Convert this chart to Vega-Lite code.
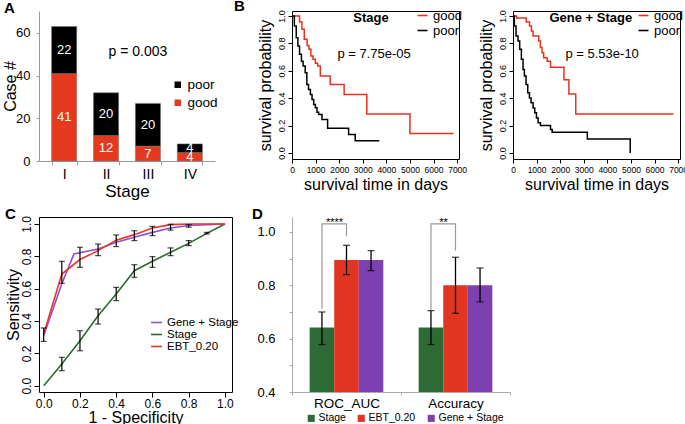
{
"$schema":"https://vega.github.io/schema/vega-lite/v6.json",
"padding":{"left":2,"top":-2,"right":2,"bottom":2},
"background":"white",
"config":{"font":"Liberation Sans","view":{"stroke":null},
 "axis":{"grid":false,"labelColor":"black","titleColor":"black","titleFontWeight":"normal","tickColor":"black","labelOverlap":false,"labelFlush":false},
 "title":{"anchor":"start","frame":"group","fontSize":15,"fontWeight":"bold","offset":0,"baseline":"alphabetic","color":"black"},
 "legend":{"labelColor":"black","padding":0}},
"datasets":{
 "stages":[
  {"stage":"I","outcome":"good","count":41,"ord":1},{"stage":"I","outcome":"poor","count":22,"ord":2},
  {"stage":"II","outcome":"good","count":12,"ord":1},{"stage":"II","outcome":"poor","count":20,"ord":2},
  {"stage":"III","outcome":"good","count":7,"ord":1},{"stage":"III","outcome":"poor","count":20,"ord":2},
  {"stage":"IV","outcome":"good","count":4,"ord":1},{"stage":"IV","outcome":"poor","count":4,"ord":2}],
 "km1":[
  {"g":"good","t":0,"s":1},{"g":"good","t":320,"s":0.956},{"g":"good","t":420,"s":0.902},{"g":"good","t":520,"s":0.829},{"g":"good","t":640,"s":0.785},{"g":"good","t":720,"s":0.756},{"g":"good","t":800,"s":0.707},{"g":"good","t":890,"s":0.683},{"g":"good","t":990,"s":0.654},{"g":"good","t":1090,"s":0.634},{"g":"good","t":1200,"s":0.561},{"g":"good","t":1620,"s":0.5},{"g":"good","t":2210,"s":0.427},{"g":"good","t":3170,"s":0.285},{"g":"good","t":5000,"s":0.142},{"g":"good","t":6850,"s":0.142},
  {"g":"poor","t":0,"s":1},{"g":"poor","t":100,"s":0.927},{"g":"poor","t":180,"s":0.841},{"g":"poor","t":250,"s":0.78},{"g":"poor","t":320,"s":0.72},{"g":"poor","t":400,"s":0.67},{"g":"poor","t":470,"s":0.634},{"g":"poor","t":560,"s":0.585},{"g":"poor","t":630,"s":0.5},{"g":"poor","t":700,"s":0.463},{"g":"poor","t":780,"s":0.427},{"g":"poor","t":850,"s":0.39},{"g":"poor","t":920,"s":0.354},{"g":"poor","t":990,"s":0.33},{"g":"poor","t":1060,"s":0.298},{"g":"poor","t":1130,"s":0.28},{"g":"poor","t":1270,"s":0.244},{"g":"poor","t":1510,"s":0.18},{"g":"poor","t":2400,"s":0.134},{"g":"poor","t":2680,"s":0.09},{"g":"poor","t":3700,"s":0.09}],
 "km2":[
  {"g":"good","t":0,"s":1},{"g":"good","t":150,"s":0.985},{"g":"good","t":560,"s":0.956},{"g":"good","t":700,"s":0.927},{"g":"good","t":780,"s":0.89},{"g":"good","t":850,"s":0.854},{"g":"good","t":1090,"s":0.817},{"g":"good","t":1160,"s":0.77},{"g":"good","t":1230,"s":0.732},{"g":"good","t":1300,"s":0.695},{"g":"good","t":1450,"s":0.67},{"g":"good","t":1590,"s":0.625},{"g":"good","t":2160,"s":0.535},{"g":"good","t":2370,"s":0.43},{"g":"good","t":2660,"s":0.285},{"g":"good","t":6800,"s":0.285},
  {"g":"poor","t":0,"s":1},{"g":"poor","t":57,"s":0.927},{"g":"poor","t":128,"s":0.854},{"g":"poor","t":213,"s":0.817},{"g":"poor","t":284,"s":0.756},{"g":"poor","t":355,"s":0.683},{"g":"poor","t":426,"s":0.61},{"g":"poor","t":483,"s":0.561},{"g":"poor","t":554,"s":0.5},{"g":"poor","t":625,"s":0.439},{"g":"poor","t":696,"s":0.402},{"g":"poor","t":767,"s":0.366},{"g":"poor","t":852,"s":0.329},{"g":"poor","t":923,"s":0.293},{"g":"poor","t":994,"s":0.256},{"g":"poor","t":1065,"s":0.22},{"g":"poor","t":1164,"s":0.2},{"g":"poor","t":1590,"s":0.171},{"g":"poor","t":1661,"s":0.151},{"g":"poor","t":3152,"s":0.102},{"g":"poor","t":4970,"s":0}],
 "roc":[
  {"m":"Gene + Stage","x":0,"y":0.31},{"m":"Gene + Stage","x":0.1,"y":0.63},{"m":"Gene + Stage","x":0.167,"y":0.815},{"m":"Gene + Stage","x":0.3,"y":0.845},{"m":"Gene + Stage","x":0.4,"y":0.887},{"m":"Gene + Stage","x":0.5,"y":0.918},{"m":"Gene + Stage","x":0.6,"y":0.948},{"m":"Gene + Stage","x":0.7,"y":0.975},{"m":"Gene + Stage","x":0.8,"y":0.99},{"m":"Gene + Stage","x":1,"y":1},
  {"m":"Stage","x":0,"y":0},{"m":"Stage","x":0.1,"y":0.134},{"m":"Stage","x":0.2,"y":0.278},{"m":"Stage","x":0.3,"y":0.433},{"m":"Stage","x":0.4,"y":0.567},{"m":"Stage","x":0.5,"y":0.711},{"m":"Stage","x":0.6,"y":0.769},{"m":"Stage","x":0.7,"y":0.825},{"m":"Stage","x":0.8,"y":0.88},{"m":"Stage","x":0.9,"y":0.942},{"m":"Stage","x":1,"y":1},
  {"m":"EBT_0.20","x":0,"y":0.32},{"m":"EBT_0.20","x":0.1,"y":0.69},{"m":"EBT_0.20","x":0.2,"y":0.78},{"m":"EBT_0.20","x":0.3,"y":0.835},{"m":"EBT_0.20","x":0.4,"y":0.9},{"m":"EBT_0.20","x":0.5,"y":0.934},{"m":"EBT_0.20","x":0.6,"y":0.975},{"m":"EBT_0.20","x":0.7,"y":0.996},{"m":"EBT_0.20","x":0.8,"y":1},{"m":"EBT_0.20","x":1,"y":1}],
 "rocerr":[
  {"x":0,"lo":0.274,"hi":0.357},{"x":0.1,"lo":0.633,"hi":0.769},{"x":0.2,"lo":0.732,"hi":0.856},{"x":0.3,"lo":0.804,"hi":0.876},{"x":0.4,"lo":0.86,"hi":0.932},{"x":0.5,"lo":0.897,"hi":0.958},{"x":0.6,"lo":0.928,"hi":0.985},{"x":0.7,"lo":0.962,"hi":0.998},{"x":0.8,"lo":0.98,"hi":0.996},
  {"x":0.1,"lo":0.093,"hi":0.175},{"x":0.2,"lo":0.216,"hi":0.34},{"x":0.3,"lo":0.381,"hi":0.474},{"x":0.4,"lo":0.526,"hi":0.608},{"x":0.5,"lo":0.67,"hi":0.748},{"x":0.6,"lo":0.732,"hi":0.798},{"x":0.7,"lo":0.804,"hi":0.852},{"x":0.8,"lo":0.866,"hi":0.897},{"x":0.9,"lo":0.938,"hi":0.948}],
 "perf":[
  {"grp":"ROC_AUC","model":"Stage","v":0.642,"lo":0.578,"hi":0.70},
  {"grp":"ROC_AUC","model":"EBT_0.20","v":0.895,"lo":0.84,"hi":0.95},
  {"grp":"ROC_AUC","model":"Gene + Stage","v":0.895,"lo":0.855,"hi":0.93},
  {"grp":"Accuracy","model":"Stage","v":0.642,"lo":0.578,"hi":0.705},
  {"grp":"Accuracy","model":"EBT_0.20","v":0.80,"lo":0.695,"hi":0.905},
  {"grp":"Accuracy","model":"Gene + Stage","v":0.80,"lo":0.738,"hi":0.865}],
 "brackets":[
  {"b":"r","grp":"ROC_AUC","model":"Stage","v":0.712,"o":1},{"b":"r","grp":"ROC_AUC","model":"Stage","v":1.03,"o":2},{"b":"r","grp":"ROC_AUC","model":"EBT_0.20","v":1.03,"o":3},{"b":"r","grp":"ROC_AUC","model":"EBT_0.20","v":0.984,"o":4},
  {"b":"a","grp":"Accuracy","model":"Stage","v":0.708,"o":1},{"b":"a","grp":"Accuracy","model":"Stage","v":1.03,"o":2},{"b":"a","grp":"Accuracy","model":"EBT_0.20","v":1.03,"o":3},{"b":"a","grp":"Accuracy","model":"EBT_0.20","v":0.93,"o":4}],
 "stars":[{"grp":"ROC_AUC","model":"EBT_0.20","s":"****"},{"grp":"Accuracy","model":"EBT_0.20","s":"**"}]
},
"bounds":"flush",
"align":"none",
"columns":3,
"spacing":{"column":54,"row":56},
"resolve":{"scale":{"x":"independent","y":"independent","color":"independent","xOffset":"independent"},"legend":{"color":"independent"},"axis":{"x":"independent","y":"independent"}},
"concat":[
  {"width":199,"height":150,
   "title":{"text":"A","dx":-35,"dy":9},
   "data":{"name":"stages"},
   "layer":[
    {"mark":{"type":"bar","stroke":"#777","strokeWidth":0.5},
     "encoding":{
      "x":{"field":"stage","type":"ordinal","sort":["I","II","III","IV"],"scale":{"paddingInner":0.4,"paddingOuter":0.3,"range":[0,176]},
       "axis":{"labelAngle":0,"labelFontSize":14,"title":"Stage","titleFontSize":17,"domainColor":"#999","tickColor":"#999","tickBand":"extent","tickSize":4,"labelPadding":2,"titlePadding":2,"titleX":88,"labelOverlap":false}},
      "y":{"field":"count","type":"quantitative","stack":"zero","scale":{"domain":[0,70.3],"nice":false},
       "axis":{"values":[0,20,40,60],"tickCount":10,"domainColor":"#999","tickColor":"#999","tickSize":3,"labelFontSize":13,"labelPadding":6,"title":"Case #","titleFontSize":16,"titlePadding":-3,"labelOverlap":false}},
      "color":{"field":"outcome","type":"nominal","scale":{"domain":["poor","good"],"range":["#000000","#e5391e"]},
       "legend":{"orient":"none","legendX":132,"legendY":67,"title":null,"symbolType":"square","symbolSize":42,"labelFontSize":13.5,"rowPadding":3,"labelOffset":3,"symbolStrokeWidth":0}},
      "order":{"field":"ord"}}},
    {"transform":[{"stack":"count","groupby":["stage"],"sort":[{"field":"ord"}],"as":["y0","y1"]},{"fold":["y0","y1"],"as":["k","yy"]}],
     "mark":{"type":"text","color":"white","fontSize":13,"baseline":"middle"},
     "encoding":{
      "x":{"field":"stage","type":"ordinal","sort":["I","II","III","IV"]},
      "y":{"aggregate":"mean","field":"yy","type":"quantitative"},
      "text":{"field":"count","type":"quantitative"},
      "detail":{"field":"outcome"}}},
    {"data":{"values":[{"label":"p = 0.003"}]},
     "mark":{"type":"text","fontSize":14,"dx":-10,"baseline":"middle"},
     "encoding":{"x":{"datum":"III"},"y":{"datum":51},"text":{"field":"label"}}}
   ]},
   {"width":167,"height":148,
    "title":{"text":"B","dx":-58,"dy":9},
    "view":{"stroke":"black","strokeWidth":1},
    "layer":[
     {"data":{"name":"km1"},
      "mark":{"type":"line","interpolate":"step-after","strokeWidth":1.5},
      "encoding":{
       "x":{"field":"t","type":"quantitative","scale":{"domain":[0,7080],"nice":false,"zero":false},
        "axis":{"values":[0,1000,2000,3000,4000,5000,6000,7000],"tickCount":10,"format":"d","labelOverlap":false,"domain":false,"tickSize":4,"labelFontSize":8.5,"labelPadding":2,"title":"survival time in days","titleFontSize":16,"titlePadding":3}},
       "y":{"field":"s","type":"quantitative","scale":{"domain":[-0.044,1.036],"nice":false},
        "axis":{"values":[0,0.2,0.4,0.6,0.8,1],"tickCount":10,"format":".1f","labelOverlap":false,"labelAngle":-90,"labelAlign":"center","labelBaseline":"bottom","domain":false,"tickSize":4,"labelFontSize":9,"labelPadding":2,"title":"survival probability","titleFontSize":16,"titlePadding":4}},
       "color":{"field":"g","type":"nominal","scale":{"domain":["good","poor"],"range":["#e8321e","#000000"]},
        "legend":{"orient":"none","legendX":124,"legendY":-2,"title":null,"symbolType":"stroke","symbolSize":100,"symbolStrokeWidth":1.6,"labelFontSize":13,"rowPadding":1,"labelOffset":4}}}},
     {"data":{"values":[{"label":"Stage"}]},
      "mark":{"type":"text","fontSize":13,"fontWeight":"bold","baseline":"middle"},
      "encoding":{"x":{"datum":3350},"y":{"datum":0.985},"text":{"field":"label"}}},
     {"data":{"values":[{"label":"p = 7.75e-05"}]},
      "mark":{"type":"text","fontSize":13,"baseline":"middle"},
      "encoding":{"x":{"datum":3480},"y":{"datum":0.725},"text":{"field":"label"}}}
    ]},
   {"width":167,"height":148,
    "view":{"stroke":"black","strokeWidth":1},
    "layer":[
     {"data":{"name":"km2"},
      "mark":{"type":"line","interpolate":"step-after","strokeWidth":1.5},
      "encoding":{
       "x":{"field":"t","type":"quantitative","scale":{"domain":[0,7080],"nice":false,"zero":false},
        "axis":{"values":[0,1000,2000,3000,4000,5000,6000,7000],"tickCount":10,"format":"d","labelOverlap":false,"domain":false,"tickSize":4,"labelFontSize":8.5,"labelPadding":2,"title":"survival time in days","titleFontSize":16,"titlePadding":3}},
       "y":{"field":"s","type":"quantitative","scale":{"domain":[-0.044,1.036],"nice":false},
        "axis":{"values":[0,0.2,0.4,0.6,0.8,1],"tickCount":10,"format":".1f","labelOverlap":false,"labelAngle":-90,"labelAlign":"center","labelBaseline":"bottom","domain":false,"tickSize":4,"labelFontSize":9,"labelPadding":2,"title":"survival probability","titleFontSize":16,"titlePadding":4}},
       "color":{"field":"g","type":"nominal","scale":{"domain":["good","poor"],"range":["#e8321e","#000000"]},
        "legend":{"orient":"none","legendX":124,"legendY":-2,"title":null,"symbolType":"stroke","symbolSize":100,"symbolStrokeWidth":1.6,"labelFontSize":13,"rowPadding":1,"labelOffset":4}}}},
     {"data":{"values":[{"label":"Gene + Stage"}]},
      "mark":{"type":"text","fontSize":13,"fontWeight":"bold","baseline":"middle"},
      "encoding":{"x":{"datum":3300},"y":{"datum":0.988},"text":{"field":"label"}}},
     {"data":{"values":[{"label":"p = 5.53e-10"}]},
      "mark":{"type":"text","fontSize":13,"baseline":"middle"},
      "encoding":{"x":{"datum":3780},"y":{"datum":0.72},"text":{"field":"label"}}}
    ]},
  {"width":193,"height":175,
   "title":{"text":"C","dx":-34,"dy":10},
   "view":{"stroke":"black","strokeWidth":1},
   "layer":[
    {"data":{"name":"roc"},
     "mark":{"type":"line","strokeWidth":1.6},
     "encoding":{
      "x":{"field":"x","type":"quantitative","scale":{"domain":[-0.026,1.039],"nice":false,"zero":false},
       "axis":{"values":[0,0.2,0.4,0.6,0.8,1],"tickCount":10,"format":".1f","labelOverlap":false,"domain":false,"tickSize":5,"labelFontSize":12,"labelPadding":1,"title":"1 - Specificity","titleFontSize":16,"titlePadding":0}},
      "y":{"field":"y","type":"quantitative","scale":{"domain":[-0.039,1.043],"nice":false},
       "axis":{"values":[0,0.2,0.4,0.6,0.8,1],"tickCount":10,"format":".1f","labelOverlap":false,"labelAngle":-90,"labelAlign":"center","labelBaseline":"bottom","domain":false,"tickSize":5,"labelFontSize":12,"labelPadding":1,"title":"Sensitivity","titleFontSize":16,"titlePadding":-1}},
      "color":{"field":"m","type":"nominal","scale":{"domain":["Gene + Stage","Stage","EBT_0.20"],"range":["#8a52d6","#2c6b2f","#ee3424"]},
       "legend":{"orient":"none","legendX":111,"legendY":99,"title":null,"symbolType":"stroke","symbolSize":121,"symbolStrokeWidth":1.6,"labelFontSize":11.5,"rowPadding":0,"labelOffset":4}}}},
    {"data":{"name":"rocerr"},
     "mark":{"type":"errorbar","ticks":{"size":6,"color":"black"},"color":"black","thickness":1.2},
     "encoding":{
      "x":{"field":"x","type":"quantitative","title":"1 - Specificity"},
      "y":{"field":"lo","type":"quantitative","title":"Sensitivity"},
      "y2":{"field":"hi"}}}
   ]},
  {"width":167,"height":175,
   "title":{"text":"D","dx":-40,"dy":9},
   "layer":[
    {"data":{"name":"perf"},
     "mark":{"type":"bar"},
     "encoding":{
      "x":{"field":"grp","type":"nominal","sort":["ROC_AUC","Accuracy"],"scale":{"paddingInner":0,"paddingOuter":0,"range":[0,218]},
       "axis":{"title":null,"labelAngle":0,"labelFontSize":13.5,"labelPadding":1,"labelOverlap":false,"domainColor":"#aaa","tickColor":"#aaa","tickBand":"extent","tickSize":3}},
      "xOffset":{"field":"model","type":"nominal","sort":["Stage","EBT_0.20","Gene + Stage"],"scale":{"paddingInner":0,"paddingOuter":0.72}},
      "y":{"field":"v","type":"quantitative","scale":{"domain":[0.4,1.056],"nice":false,"zero":false},
       "axis":{"values":[0.4,0.5,0.6,0.7,0.8,0.9,1.0],"tickCount":10,"labelOverlap":false,"labelExpr":"(round(datum.value*10) % 2 == 0) ? format(datum.value, '.1f') : ''","labelFontSize":13,"domainColor":"#aaa","tickColor":"#aaa","tickSize":3,"labelPadding":14,"title":null}},
      "y2":{"datum":0.4},
      "color":{"field":"model","type":"nominal","scale":{"domain":["Stage","EBT_0.20","Gene + Stage"],"range":["#2e6a36","#e13521","#7d40b1"]},
       "legend":{"orient":"none","direction":"horizontal","legendX":14,"legendY":196,"title":null,"symbolType":"square","symbolSize":50,"labelFontSize":10.5,"columnPadding":10,"labelOffset":2,"symbolStrokeWidth":0}}}},
    {"data":{"name":"perf"},
     "mark":{"type":"errorbar","ticks":{"size":7,"color":"black"},"color":"black","thickness":1.3},
     "encoding":{
      "x":{"field":"grp","type":"nominal","sort":["ROC_AUC","Accuracy"]},
      "xOffset":{"field":"model","type":"nominal","sort":["Stage","EBT_0.20","Gene + Stage"]},
      "y":{"field":"lo","type":"quantitative"},
      "y2":{"field":"hi"}}},
    {"data":{"name":"brackets"},
     "mark":{"type":"line","color":"#999","strokeWidth":1.2},
     "encoding":{
      "x":{"field":"grp","type":"nominal","sort":["ROC_AUC","Accuracy"]},
      "xOffset":{"field":"model","type":"nominal","sort":["Stage","EBT_0.20","Gene + Stage"]},
      "y":{"field":"v","type":"quantitative"},
      "detail":{"field":"b"},
      "order":{"field":"o"}}},
    {"data":{"name":"stars"},
     "mark":{"type":"text","fontSize":11,"baseline":"middle","dx":-12},
     "encoding":{
      "x":{"field":"grp","type":"nominal","sort":["ROC_AUC","Accuracy"]},
      "xOffset":{"field":"model","type":"nominal","sort":["Stage","EBT_0.20","Gene + Stage"]},
      "y":{"datum":1.035},
      "text":{"field":"s"}}}
   ]}
]
}
